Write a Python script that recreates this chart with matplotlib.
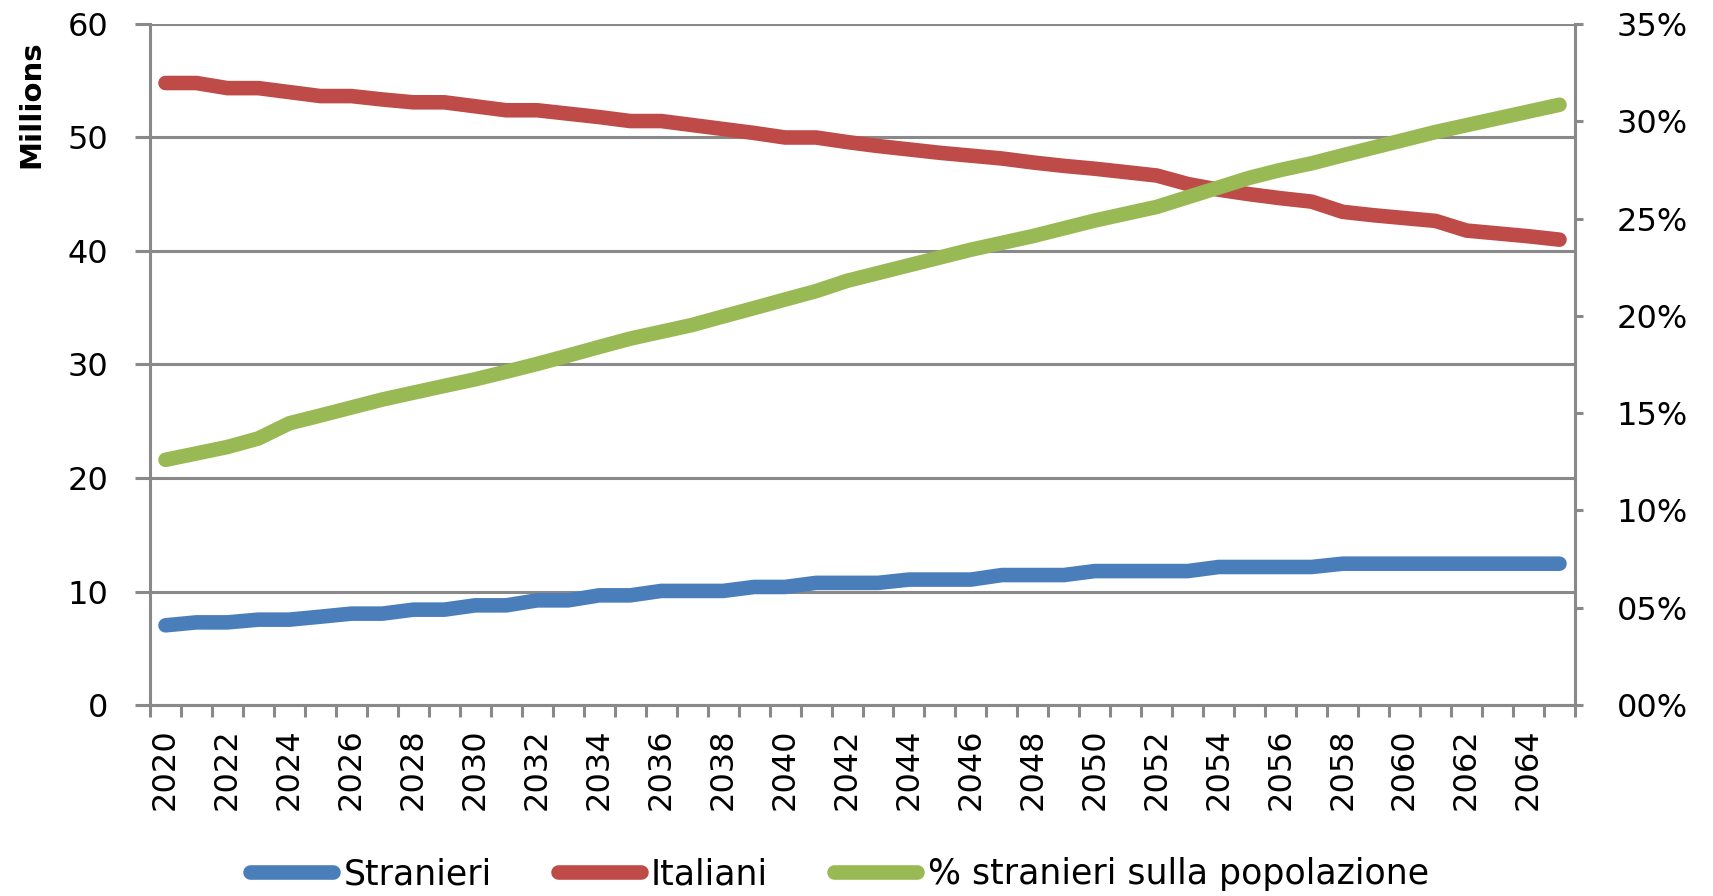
import numpy as np
import matplotlib
matplotlib.use("Agg")
import matplotlib.pyplot as plt

plt.rcParams['font.family'] = ['DejaVu Sans']

years = list(range(2020, 2066))
stranieri = [7.02, 7.28, 7.28, 7.52, 7.52, 7.78, 8.05, 8.05, 8.40, 8.40,
             8.78, 8.78, 9.22, 9.22, 9.66, 9.66, 10.05, 10.05, 10.05, 10.40,
             10.40, 10.76, 10.76, 10.76, 11.05, 11.05, 11.05, 11.45, 11.45, 11.45,
             11.80, 11.80, 11.80, 11.80, 12.16, 12.16, 12.16, 12.16, 12.45, 12.45,
             12.45, 12.45, 12.45, 12.45, 12.45, 12.45]
italiani = [54.80, 54.80, 54.35, 54.35, 54.00, 53.65, 53.65, 53.35, 53.10, 53.10,
            52.75, 52.40, 52.40, 52.10, 51.80, 51.45, 51.45, 51.10, 50.75, 50.40,
            50.00, 50.00, 49.60, 49.25, 48.95, 48.65, 48.40, 48.15, 47.80, 47.50,
            47.25, 46.95, 46.65, 45.90, 45.40, 45.00, 44.65, 44.35, 43.45, 43.15,
            42.90, 42.65, 41.80, 41.55, 41.30, 41.00]
perc_stranieri = [12.60, 12.93, 13.26, 13.70, 14.48, 14.88, 15.29, 15.70, 16.05, 16.40,
                  16.74, 17.13, 17.53, 17.96, 18.40, 18.83, 19.18, 19.53, 19.97, 20.40,
                  20.84, 21.27, 21.80, 22.20, 22.60, 23.00, 23.40, 23.75, 24.10, 24.50,
                  24.90, 25.25, 25.60, 26.10, 26.60, 27.10, 27.50, 27.84, 28.25, 28.65,
                  29.05, 29.45, 29.80, 30.15, 30.50, 30.85]
series_names = ["Stranieri", "Italiani", "% stranieri sulla popolazione"]
left_ticks = [0, 10, 20, 30, 40, 50, 60]
right_ticks = [0, 5, 10, 15, 20, 25, 30, 35]
x_tick_labels = [str(y) for y in years[::2]]
y_label = "Millions"

c_blue = "#4A7EBB"
c_red = "#BE4B48"
c_green = "#98B954"
c_grid = "#898989"

W, H = 1713, 896
fig = plt.figure(figsize=(W / 100, H / 100), dpi=100)
ax = fig.add_axes([150 / W, 1 - 705 / H, (1575 - 150) / W, (705 - 24) / H])
ax2 = ax.twinx()

x = np.arange(len(years))
lw = 10.5
l1, = ax.plot(x, stranieri, color=c_blue, lw=lw, solid_capstyle='round',
              solid_joinstyle='round', label=series_names[0], zorder=3)
l2, = ax.plot(x, italiani, color=c_red, lw=lw, solid_capstyle='round',
              solid_joinstyle='round', label=series_names[1], zorder=3)
l3, = ax2.plot(x, perc_stranieri, color=c_green, lw=lw, solid_capstyle='round',
               solid_joinstyle='round', label=series_names[2], zorder=3)

ax.set_xlim(-0.5, len(years) - 0.5)
ax.set_ylim(0, 60)
ax2.set_ylim(0, 35)

ax.set_axisbelow(True)
ax.set_yticks(left_ticks)
ax.set_yticklabels([str(v) for v in left_ticks])
ax.yaxis.grid(True, color=c_grid, lw=2.2)
ax.xaxis.grid(False)

ax2.set_yticks(right_ticks)
ax2.set_yticklabels([f"{v:02d}%" for v in right_ticks])

# x ticks: marks at category boundaries, labels every other category
ax.set_xticks(np.arange(-0.5, len(years), 1.0))
ax.set_xticklabels([])
ax.set_xticks(x[::2], minor=True)
ax.set_xticklabels(x_tick_labels, minor=True, rotation=90, va='top', ha='center')

fs = 23
ax.tick_params(axis='x', which='major', length=8.6, width=2.2, color=c_grid, direction='out')
ax.tick_params(axis='x', which='minor', length=0, pad=17, labelsize=fs)
ax.tick_params(axis='y', which='major', length=10.8, width=2.2, color=c_grid,
               direction='out', pad=19, labelsize=fs)
ax2.tick_params(axis='y', which='major', length=6, width=2.2, color=c_grid,
                direction='out', pad=24, labelsize=fs)

for a in (ax, ax2):
    for s in a.spines.values():
        s.set_color(c_grid)
        s.set_linewidth(2.2)
    a.spines['top'].set_visible(False)
ax.spines['right'].set_visible(False)
ax2.spines['left'].set_visible(False)
ax2.spines['bottom'].set_visible(False)

fig.text(31 / W, 1 - 104 / H, y_label, rotation=90, ha='center', va='center',
         fontsize=21, fontweight='bold')

fig.legend([l1, l2, l3], series_names, loc='center left',
           bbox_to_anchor=(250 / W, 1 - 874 / H), ncol=3, frameon=False,
           fontsize=25, handlelength=2.4, handletextpad=0.29, columnspacing=1.9,
           borderpad=0, borderaxespad=0)

fig.savefig("out.png", dpi=100)
